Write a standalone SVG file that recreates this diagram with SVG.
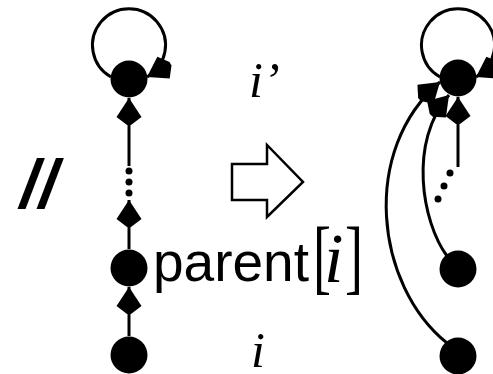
<svg xmlns="http://www.w3.org/2000/svg" width="493" height="374" viewBox="0 0 493 374">
<style>
.node{fill:#000}
.edge{fill:none;stroke:#000;stroke-width:3}
.dot{fill:#000}
.sans{font-family:"Liberation Sans",Arial,sans-serif;fill:#000}
.serif{font-family:"Liberation Serif","Times New Roman",serif;fill:#000}
.it{font-style:italic}
</style>
<defs>
<marker id="ah" markerUnits="userSpaceOnUse" markerWidth="34" markerHeight="34" viewBox="-31 -17 34 34" refX="0" refY="0" orient="auto">
<path d="M0,0 L-19,-12.5 L-27,-2 L-27,2 L-19,12.5 Z" fill="#000"/>
</marker>
</defs>
<rect width="493" height="374" fill="#fff"/>
<g id="connectors">
<path class="edge" d="M111,77 A36.5,36.5 0 1 1 147,77" marker-end="url(#ah)"/>
<path class="edge" d="M129,166 L129,98" marker-end="url(#ah)"/>
<path class="edge" d="M129,249 L129,200" marker-end="url(#ah)"/>
<path class="edge" d="M129,336 L129,287" marker-end="url(#ah)"/>
<path class="edge" d="M440,77 A36.5,36.5 0 1 1 476,77" marker-end="url(#ah)"/>
<path class="edge" d="M458,167 L458,97" marker-end="url(#ah)"/>
<path class="edge" d="M447,256 C422,222 408,142 449,95" marker-end="url(#ah)"/>
<path class="edge" d="M447,343 C375,285 360,150 440,82" marker-end="url(#ah)"/>
</g>
<g id="dots">
<circle class="dot" cx="129" cy="171" r="3.5"/>
<circle class="dot" cx="129" cy="182" r="3.5"/>
<circle class="dot" cx="129" cy="193" r="3.5"/>
<circle class="dot" cx="450" cy="173" r="3.5"/>
<circle class="dot" cx="444" cy="186" r="3.5"/>
<circle class="dot" cx="438" cy="199" r="3.5"/>
</g>
<g id="node-left-root"><circle class="node" cx="129" cy="79" r="18.5"/></g>
<g id="node-left-parent"><circle class="node" cx="129" cy="268" r="18.5"/></g>
<g id="node-left-i"><circle class="node" cx="129" cy="355" r="18.5"/></g>
<g id="node-right-root"><circle class="node" cx="458" cy="78" r="18.5"/></g>
<g id="node-right-parent"><circle class="node" cx="458" cy="269" r="18.5"/></g>
<g id="node-right-i"><circle class="node" cx="458" cy="356" r="18.5"/></g>
<g id="transform-arrow">
<polygon points="232,164 267,164 267,145 303,182 267,217 267,200 232,200" fill="#fff" stroke="#000" stroke-width="2.5" stroke-linejoin="miter"/>
</g>
<g id="labels">
<text class="sans it" x="20" y="208" font-size="68" font-weight="bold">//</text>
<text class="serif it" x="249" y="97" font-size="50">i’</text>
<text class="serif it" x="251" y="367" font-size="50">i</text>
<text class="sans" x="153" y="281" font-size="55">parent</text>
<text class="serif" font-size="54" transform="translate(313,283.5) scale(1,1.52)">[</text>
<text class="serif it" x="324" y="282" font-size="70">i</text>
<text class="serif" font-size="54" transform="translate(345,283.5) scale(1,1.52)">]</text>
</g>
</svg>
